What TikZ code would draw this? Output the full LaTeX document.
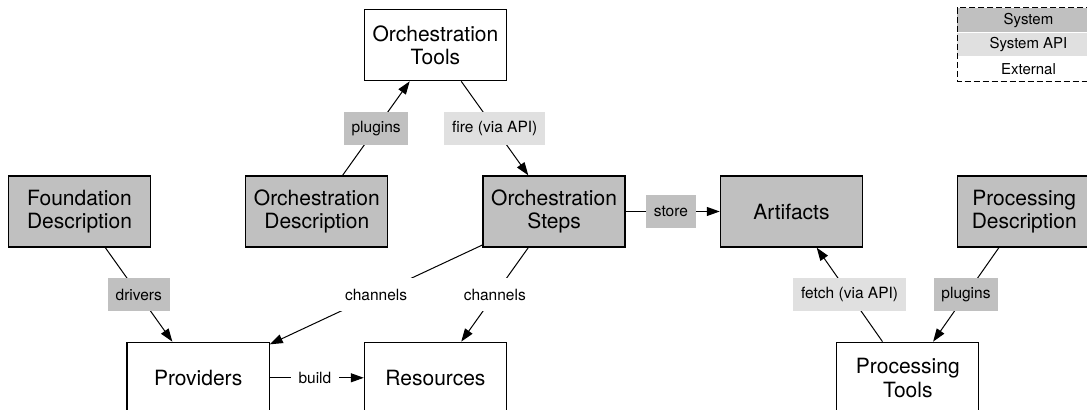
\documentclass[tikz,border=0pt]{standalone}
\usepackage{fontspec}
\setmainfont{TeX Gyre Heros}
\usetikzlibrary{positioning,calc,arrows.meta}

\definecolor{sysgray}{HTML}{C0C0C0}
\definecolor{apigray}{HTML}{E0E0E0}

\tikzset{
  nodebox/.style={rectangle, draw=black, line width=0.65pt, minimum width=71pt, minimum height=35.5pt,
    inner sep=0pt, align=center, font=\fontsize{10.5pt}{11.75pt}\selectfont},
  sysbox/.style={nodebox, fill=sysgray},
  extbox/.style={nodebox, fill=white},
  edgelabel/.style={rectangle, minimum height=16.5pt, inner xsep=3.9pt, inner ysep=0pt,
    font=\fontsize{7.75pt}{9pt}\selectfont},
  syslabel/.style={edgelabel, fill=sysgray},
  apilabel/.style={edgelabel, fill=apigray},
  plainlabel/.style={edgelabel, fill=white},
  legrow/.style={rectangle, minimum width=71pt, minimum height=11.83pt, inner sep=0pt,
    font=\fontsize{7.5pt}{9pt}\selectfont},
  link/.style={-{Triangle[length=6.5pt,width=4.5pt]}, line width=0.5pt},
}

\begin{document}
\begin{tikzpicture}[node distance=47pt]
    \useasboundingbox (-39.75pt,-99.25pt) rectangle (503.75pt,105.75pt);
    \clip (-39.75pt,-99.25pt) rectangle (503.75pt,105.75pt);

    % middle row
    \node[sysbox] (found) {Foundation\\Description};
    \node[sysbox, right=of found] (orchdesc) {Orchestration\\Description};
    \node[sysbox, right=of orchdesc] (orchsteps) {Orchestration\\Steps};
    \node[sysbox, right=of orchsteps] (artifacts) {Artifacts};
    \node[sysbox, minimum width=66.5pt, right=of artifacts] (procdesc) {Processing\\Description};

    % top and bottom rows
    \coordinate (topmid) at ($(orchdesc.north)!0.5!(orchsteps.north)$);
    \coordinate (provmid) at ($(found.south)!0.5!(orchdesc.south)$);
    \coordinate (resmid) at ($(orchdesc.south)!0.5!(orchsteps.south)$);
    \coordinate (procmid) at ($(artifacts.south)!0.5!(procdesc.south)$);

    \node[extbox, above=of topmid] (orchtools) {Orchestration\\Tools};
    \node[extbox, below=of provmid] (providers) {Providers};
    \node[extbox, below=of resmid] (resources) {Resources};
    \node[extbox, below=of procmid] (proctools) {Processing\\Tools};

    % legend
    \node[legrow, fill=white, above right=47pt and 0pt of procdesc.north west] (legext) {External};
    \node[legrow, fill=apigray, above=0pt of legext] (legapi) {System API};
    \node[legrow, fill=sysgray, above=0pt of legapi] (legsys) {System};
    \draw[line width=0.5pt, dash pattern=on 3pt off 1.5pt] (legsys.north west) rectangle (legext.south east);

    \draw[link] (orchdesc) -- node[syslabel] {plugins} (orchtools);
    \draw[link] (orchtools) -- node[apilabel] {fire (via API)} (orchsteps);
    \draw[link] (found) -- node[syslabel] {drivers} (providers);
    \draw[link] (orchsteps) -- node[plainlabel] {channels} (providers);
    \draw[link] (orchsteps) -- node[plainlabel] {channels} (resources);
    \draw[link] (orchsteps) -- node[syslabel, pos=0.48] {store} (artifacts);
    \draw[link] (providers) -- node[plainlabel, pos=0.48] {build} (resources);
    \draw[link] (proctools) -- node[apilabel] {fetch (via API)} (artifacts);
    \draw[link] (procdesc) -- node[syslabel] {plugins} (proctools);
\end{tikzpicture}
\end{document}
